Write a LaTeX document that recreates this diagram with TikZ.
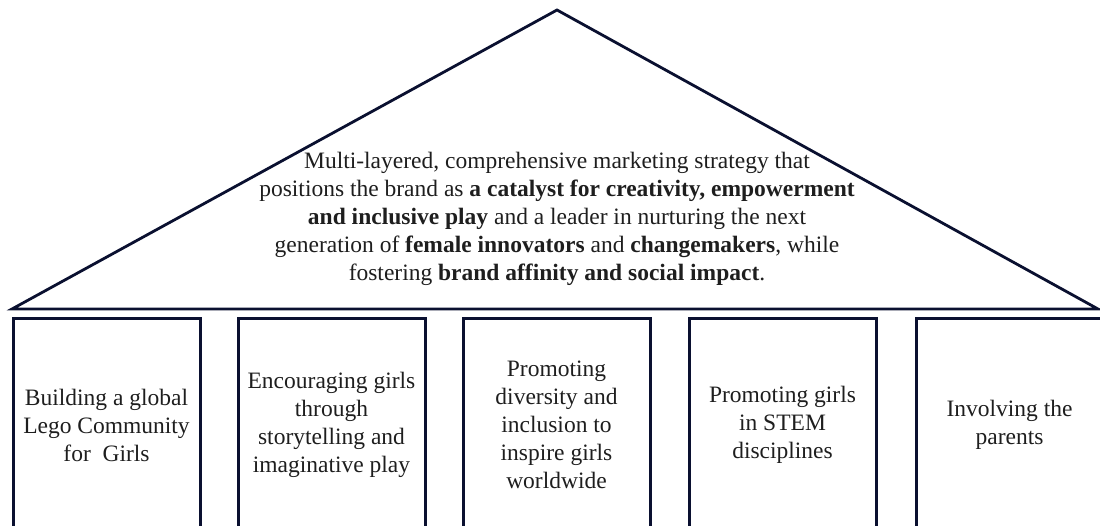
\documentclass[tikz,border=0pt]{standalone}
\usepackage{fontspec}
\setmainfont{Liberation Serif}
\definecolor{pillarnavy}{RGB}{10,16,48}
\definecolor{pillartext}{RGB}{30,30,30}
\tikzset{
  roof/.style={draw=pillarnavy, line width=2.8pt, line join=miter},
  pillar/.style={draw=pillarnavy, line width=3pt, line join=miter},
  label/.style={align=center, text=pillartext, font=\fontsize{23.5}{28}\selectfont}
}
\begin{document}
\begin{tikzpicture}[x=1pt, y=-1pt]
		\def\colw{187}
		\def\coltop{319}
		\useasboundingbox (0,0) rectangle (1100,526);
		\clip (0,0) rectangle (1100,526);
		\path
		(557,10) coordinate (A)
		(12,309) coordinate (L)
		(1098,309) coordinate (R)
		;
		% roof
		\draw[roof] (L)--(A)--(R)--cycle;
		\node[label] (strategy) at (557,219) {Multi-layered, comprehensive marketing strategy that\\
			positions the brand as \textbf{a catalyst for creativity, empowerment}\\
			\textbf{and inclusive play} and a leader in nurturing the next\\
			generation of \textbf{female innovators} and \textbf{changemakers}, while\\
			fostering \textbf{brand affinity and social impact}.};
		% pillars
		\foreach \x/\name/\txt in {
			13/community/{Building a global\\Lego Community\\for\ \ Girls},
			238/storytelling/{Encouraging girls\\through\\storytelling and\\imaginative play},
			463/diversity/{Promoting\\diversity and\\inclusion to\\inspire girls\\worldwide},
			689/stem/{Promoting girls\\in STEM\\disciplines},
			916/parents/{Involving the\\parents}}{
			\draw[pillar] (\x,600)--(\x,\coltop)--(\x+\colw,\coltop)--(\x+\colw,600);
			\node[label] (\name) at (\x+\colw/2,425) {\txt};
		}
\end{tikzpicture}
\end{document}
